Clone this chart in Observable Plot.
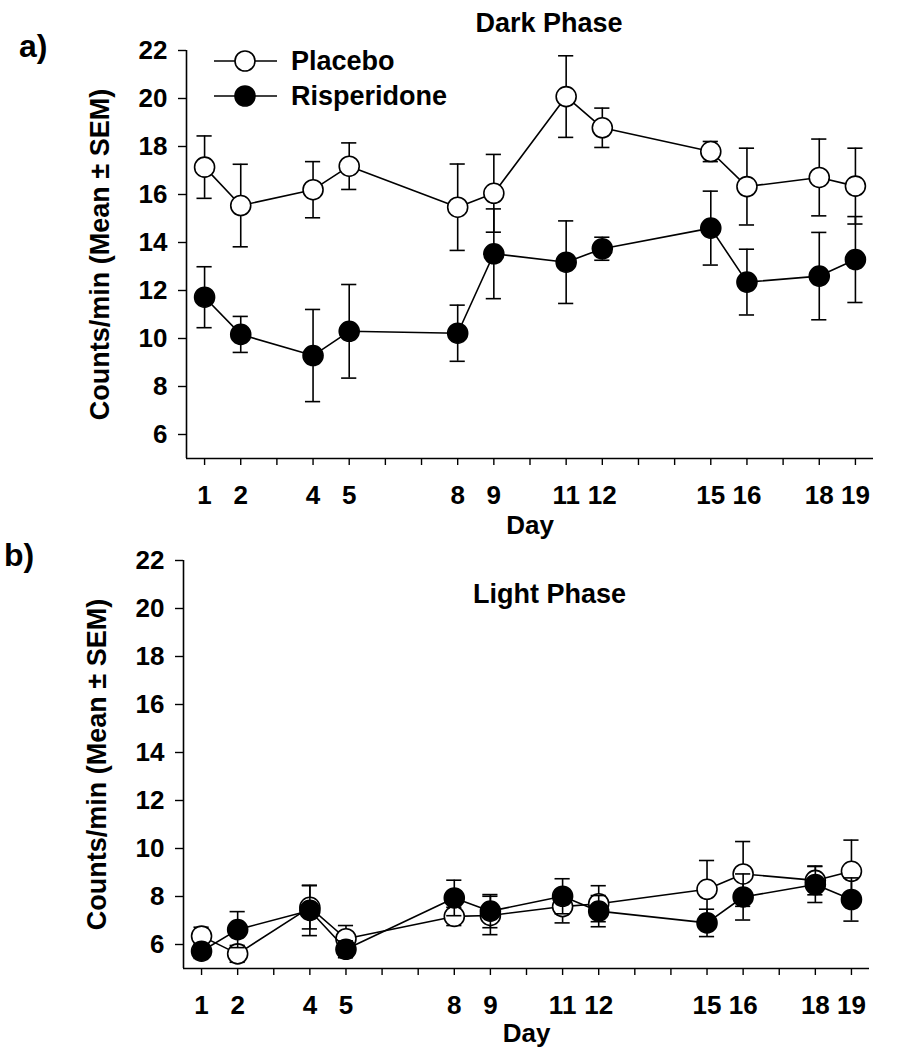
<!DOCTYPE html>
<html>
<head>
<meta charset="utf-8">
<script src="https://cdn.jsdelivr.net/npm/d3@7"></script>
<script src="https://cdn.jsdelivr.net/npm/@observablehq/plot@0.6"></script>
<style>
  html, body { margin: 0; padding: 0; background: white; overflow: hidden; }
  #wrap { position: relative; width: 911px; height: 1050px; font-family: "Liberation Sans", Arial, sans-serif; }
  #panelA { position: absolute; left: 0; top: 0; }
  #panelB { position: absolute; left: 0; top: 540px; }
  #overlay { position: absolute; left: 0; top: 0; pointer-events: none; }
</style>
</head>
<body>
<div id="wrap">
  <div id="panelA"></div>
  <div id="panelB"></div>
</div>
<script>
// ---- Data ----
const days = [1, 2, 4, 5, 8, 9, 11, 12, 15, 16, 18, 19];
const allDayTicks = [1, 2, 3, 4, 5, 6, 7, 8, 9, 10, 11, 12, 13, 14, 15, 16, 17, 18, 19];
const labeledDays = [1, 2, 4, 5, 8, 9, 11, 12, 15, 16, 18, 19];
const yTicks = [6, 8, 10, 12, 14, 16, 18, 20, 22];
const seriesNames = ["Placebo", "Risperidone"];

// a) Dark Phase
const darkPlaceboMean = [17.14, 15.54, 16.2, 17.18, 15.47, 16.05, 20.08, 18.78, 17.79, 16.33, 16.71, 16.35];
const darkPlaceboSem  = [1.3, 1.72, 1.17, 0.97, 1.8, 1.62, 1.7, 0.82, 0.42, 1.6, 1.6, 1.58];
const darkRispMean    = [11.72, 10.17, 9.29, 10.30, 10.22, 13.53, 13.18, 13.74, 14.6, 12.35, 12.6, 13.29];
const darkRispSem     = [1.27, 0.75, 1.92, 1.95, 1.17, 1.87, 1.72, 0.48, 1.54, 1.37, 1.82, 1.79];

// b) Light Phase
const lightPlaceboMean = [6.35, 5.61, 7.55, 6.24, 7.17, 7.21, 7.58, 7.70, 8.30, 8.94, 8.67, 9.05];
const lightPlaceboSem  = [0.37, 0.35, 0.9, 0.55, 0.38, 0.8, 0.68, 0.75, 1.2, 1.35, 0.6, 1.3];
const lightRispMean    = [5.72, 6.62, 7.42, 5.80, 7.94, 7.39, 8.01, 7.39, 6.9, 7.98, 8.5, 7.875];
const lightRispSem     = [0.3, 0.75, 1.05, 0.35, 0.74, 0.69, 0.73, 0.65, 0.57, 0.96, 0.75, 0.9];

const xDomain = [0.5, 19.5];
const yDomain = [5, 22];
const capHalf = 0.21;
const yLabel = "Counts/min (Mean \u00B1 SEM)";
const xLabel = "Day";
const fontFamily = "'Liberation Sans', Arial, sans-serif";

function toRows(means, sems) {
  return days.map((day, i) => ({day, mean: means[i], sem: sems[i]}));
}

function seriesMarks(data, fill) {
  const sw = 1.6;
  return [
    Plot.line(data, {x: "day", y: "mean", stroke: "black", strokeWidth: sw}),
    Plot.ruleX(data, {x: "day", y1: d => d.mean - d.sem, y2: d => d.mean + d.sem, stroke: "black", strokeWidth: sw}),
    Plot.ruleY(data, {y: d => d.mean + d.sem, x1: d => d.day - capHalf, x2: d => d.day + capHalf, stroke: "black", strokeWidth: sw}),
    Plot.ruleY(data, {y: d => d.mean - d.sem, x1: d => d.day - capHalf, x2: d => d.day + capHalf, stroke: "black", strokeWidth: sw}),
    Plot.dot(data, {x: "day", y: "mean", r: 10, fill, stroke: "black", strokeWidth: sw})
  ];
}

function panel(o) {
  const placebo = toRows(o.placeboMean, o.placeboSem);
  const risp = toRows(o.rispMean, o.rispSem);
  return Plot.plot({
    width: 911,
    height: o.height,
    marginLeft: o.marginLeft,
    marginRight: o.marginRight,
    marginTop: o.marginTop,
    marginBottom: o.marginBottom,
    style: {fontFamily, fontSize: "26px", fontWeight: "bold", color: "black", background: "white"},
    x: {domain: xDomain, axis: null},
    y: {domain: yDomain, axis: null},
    marks: [
      Plot.axisY({ticks: yTicks, tickSize: 8, tickPadding: 11, label: null, fontSize: 26, fontWeight: "bold", strokeWidth: 1.4}),
      Plot.axisX({ticks: allDayTicks, tickFormat: d => labeledDays.includes(d) ? String(d) : "", tickSize: 7, tickPadding: 20, label: null, fontSize: 26, fontWeight: "bold", strokeWidth: 1.4}),
      Plot.ruleX([xDomain[0]], {stroke: "black", strokeWidth: 1.6}),
      Plot.ruleY([yDomain[0]], {stroke: "black", strokeWidth: 1.6}),
      Plot.text([yLabel], {text: d => d, frameAnchor: "left", textAnchor: "middle", lineAnchor: "middle", rotate: -90, dx: -86, fontSize: 27, fontWeight: "bold", fill: "black"}),
      Plot.text([xLabel], {text: d => d, frameAnchor: "bottom", lineAnchor: "middle", dy: o.xLabelDy, fontSize: 26, fontWeight: "bold", fill: "black"}),
      Plot.text([o.title], {text: d => d, frameAnchor: "top", lineAnchor: "middle", dx: o.titleDx, dy: o.titleDy, fontSize: 27, fontWeight: "bold", fill: "black"}),
      ...seriesMarks(placebo, "white"),
      ...seriesMarks(risp, "black")
    ]
  });
}

document.getElementById("panelA").appendChild(panel({
  placeboMean: darkPlaceboMean, placeboSem: darkPlaceboSem,
  rispMean: darkRispMean, rispSem: darkRispSem,
  title: "Dark Phase", titleDx: 19, titleDy: -27,
  height: 540, marginLeft: 186, marginRight: 38, marginTop: 50, marginBottom: 82,
  xLabelDy: 67
}));

document.getElementById("panelB").appendChild(panel({
  placeboMean: lightPlaceboMean, placeboSem: lightPlaceboSem,
  rispMean: lightRispMean, rispSem: lightRispSem,
  title: "Light Phase", titleDx: 23, titleDy: 34,
  height: 510, marginLeft: 183, marginRight: 42, marginTop: 20, marginBottom: 82,
  xLabelDy: 65
}));

// Overlay: panel letters and legend
const overlay = d3.select("#wrap").append("svg")
  .attr("id", "overlay").attr("width", 911).attr("height", 1050)
  .attr("font-family", fontFamily).attr("font-weight", "bold");

overlay.append("text").attr("x", 19).attr("y", 57).attr("font-size", 32).text("a)");
overlay.append("text").attr("x", 4).attr("y", 566).attr("font-size", 32).text("b)");

const legendFills = ["white", "black"];
const legendY = [61, 96];
seriesNames.forEach((name, i) => {
  const g = overlay.append("g").attr("transform", `translate(0,${legendY[i]})`);
  g.append("line").attr("x1", 214).attr("x2", 277).attr("y1", 0).attr("y2", 0)
    .attr("stroke", "black").attr("stroke-width", 1.6);
  g.append("circle").attr("cx", 245).attr("cy", 0).attr("r", 10)
    .attr("fill", legendFills[i]).attr("stroke", "black").attr("stroke-width", 1.6);
  g.append("text").attr("x", 291).attr("y", 0).attr("dy", "0.35em")
    .attr("font-size", 27).text(name);
});
</script>
</body>
</html>
